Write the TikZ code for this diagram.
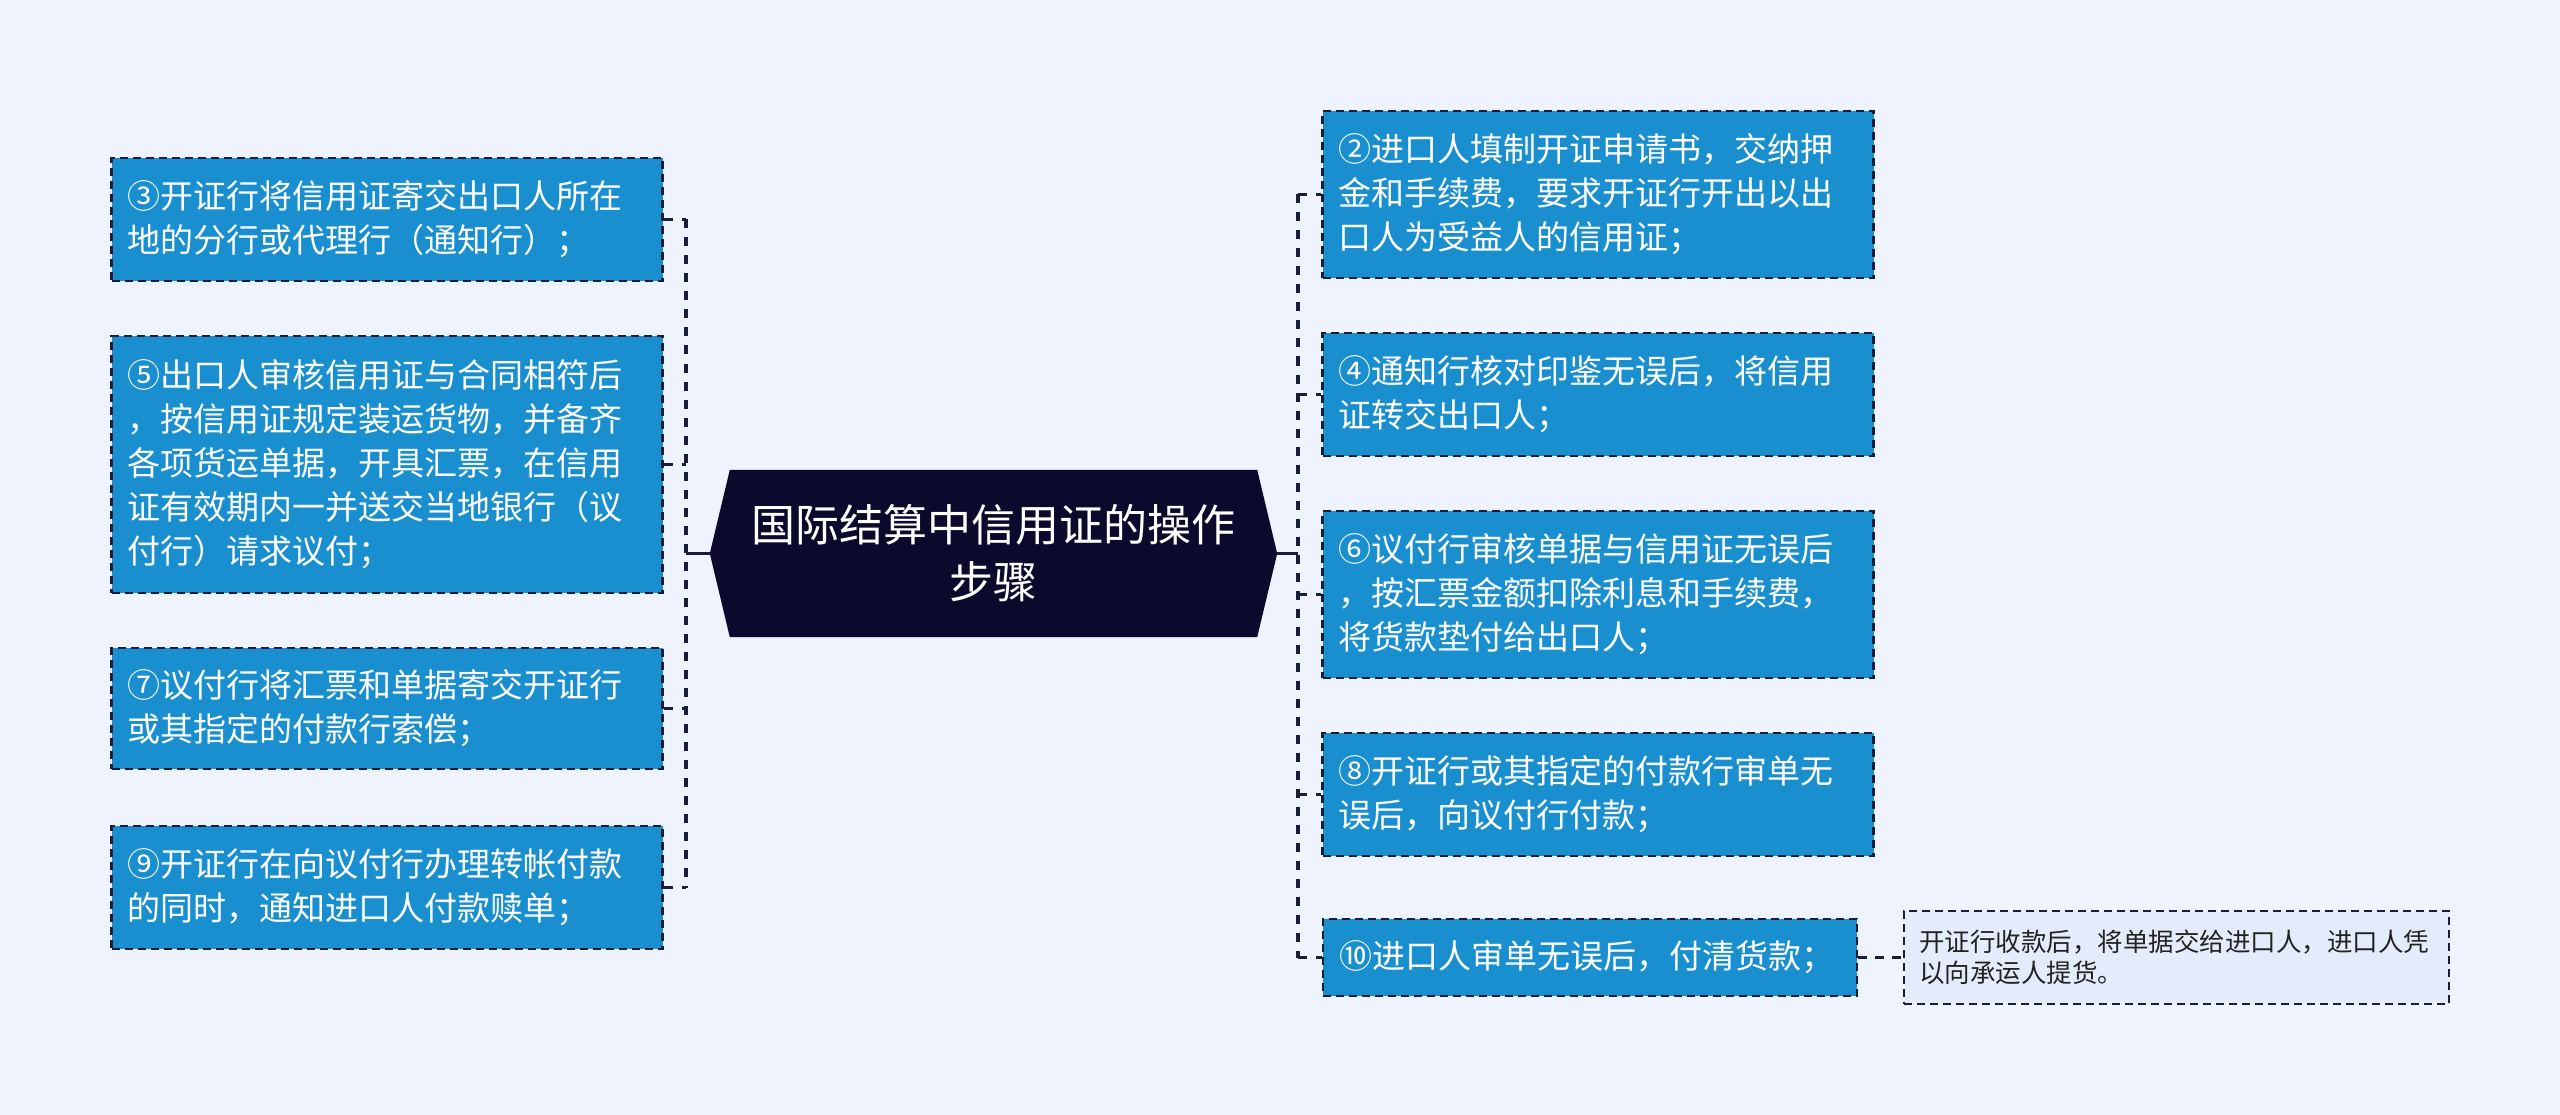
\documentclass[tikz,border=0pt]{standalone}
\usepackage{fontspec}
\setmainfont{Noto Sans CJK SC}
\definecolor{bgc}{RGB}{238,243,254}
\definecolor{boxblue}{RGB}{26,143,208}
\definecolor{boxline}{RGB}{22,30,56}
\definecolor{centerfill}{RGB}{11,9,44}
\definecolor{notefill}{RGB}{228,236,251}
\definecolor{notetext}{RGB}{34,34,34}
\begin{document}
\begin{tikzpicture}[x=1pt,y=-1pt]
\tikzset{
  stepbox/.style={draw=boxline, fill=boxblue, dash pattern=on 8pt off 5pt, line width=2.5pt,
    text=white, font=\fontsize{33}{44}\selectfont, align=left, inner xsep=16pt, inner ysep=0pt,
    text width=519pt},
  notebox/.style={draw=boxline, fill=notefill, dash pattern=on 8pt off 5pt, line width=2.3pt,
    text=notetext, font=\fontsize{25.5}{31}\selectfont, align=left, inner xsep=15pt, inner ysep=0pt,
    text width=515pt, minimum height=93pt},
  link/.style={draw=boxline, line width=3.5pt, dash pattern=on 9pt off 9pt},
  notelink/.style={draw=boxline, line width=2.5pt, dash pattern=on 9pt off 8pt},
  solidlink/.style={draw=boxline, line width=3pt},
}
\useasboundingbox (0,0) rectangle (2560,1115);
\fill[bgc] (0,0) rectangle (2560,1115);

% centre
\node[minimum width=567pt, minimum height=167pt, inner sep=0pt] (c) at (993.5,553.5) {};
\fill[centerfill] (c.west) -- ([xshift=20pt]c.north west) -- ([xshift=-20pt]c.north east)
  -- (c.east) -- ([xshift=-20pt]c.south east) -- ([xshift=20pt]c.south west) -- cycle;
\node[text=white, font=\fontsize{44}{57}\selectfont, align=center] (ctext) at (c) {国际结算中信用证的操作\\步骤};

% left boxes
\node[stepbox, minimum height=123pt] (n3) at (387,219.5) {③开证行将信用证寄交出口人所在\\地的分行或代理行（通知行）；};
\node[stepbox, minimum height=257pt] (n5) at (387,464.5) {⑤出口人审核信用证与合同相符后\\，按信用证规定装运货物，并备齐\\各项货运单据，开具汇票，在信用\\证有效期内一并送交当地银行（议\\付行）请求议付；};
\node[stepbox, minimum height=121pt] (n7) at (387,708.5) {⑦议付行将汇票和单据寄交开证行\\或其指定的付款行索偿；};
\node[stepbox, minimum height=123pt] (n9) at (387,887.5) {⑨开证行在向议付行办理转帐付款\\的同时，通知进口人付款赎单；};

% right boxes
\node[stepbox, minimum height=167pt] (n2) at (1598,194.5) {②进口人填制开证申请书，交纳押\\金和手续费，要求开证行开出以出\\口人为受益人的信用证；};
\node[stepbox, minimum height=123pt] (n4) at (1598,394.5) {④通知行核对印鉴无误后，将信用\\证转交出口人；};
\node[stepbox, minimum height=167pt] (n6) at (1598,594.5) {⑥议付行审核单据与信用证无误后\\，按汇票金额扣除利息和手续费，\\将货款垫付给出口人；};
\node[stepbox, minimum height=123pt] (n8) at (1598,794.5) {⑧开证行或其指定的付款行审单无\\误后，向议付行付款；};
\node[stepbox, minimum height=77pt, text width=502pt] (n10) at (1590,957.5) {⑩进口人审单无误后，付清货款；};

% note
\node[notebox] (note) at (2176.5,957.5) {开证行收款后，将单据交给进口人，进口人凭\\以向承运人提货。};

% buses
\coordinate (bl) at (686,0);
\coordinate (br) at (1298,0);

\draw[solidlink] (c.west) -- (c.west -| bl);
\draw[solidlink] (c.east) -- (c.east -| br);

\draw[link] (n3.east -| bl) -- (n9.east -| bl);
\foreach \n in {n3,n5,n7,n9} \draw[link] (\n.east) -- (\n.east -| bl);

\draw[link] (n2.west -| br) -- (n10.west -| br);
\foreach \n in {n2,n4,n6,n8,n10} \draw[link] (\n.west -| br) -- (\n.west);

\draw[notelink] (n10.east) -- (note.west);
\end{tikzpicture}
\end{document}
